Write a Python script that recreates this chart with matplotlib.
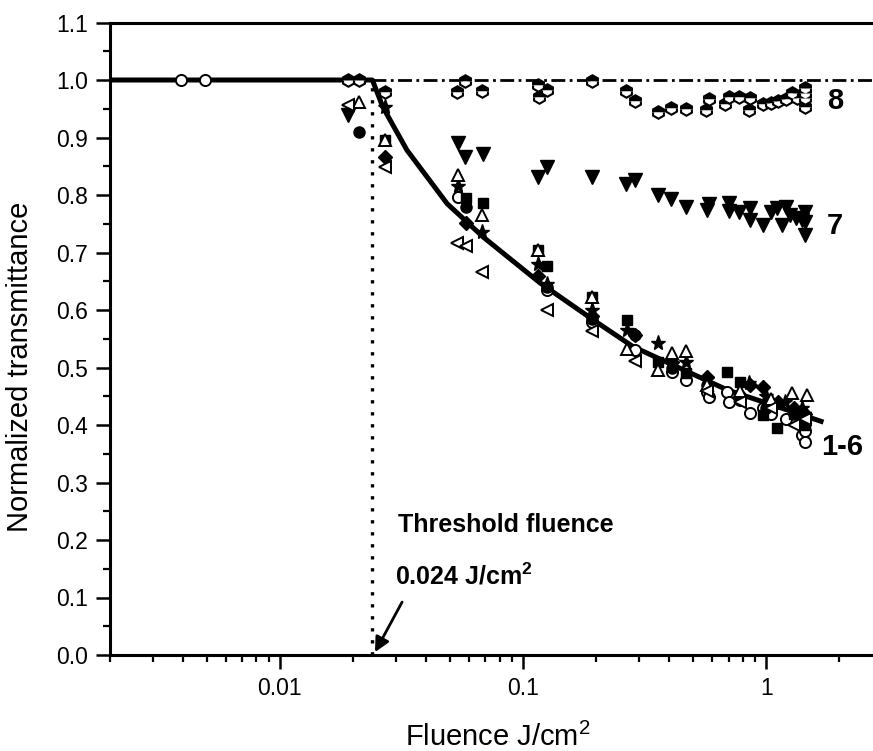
import numpy as np
import matplotlib
matplotlib.use("Agg")
import matplotlib.pyplot as plt
from matplotlib.ticker import FixedLocator, LogLocator, NullFormatter, FuncFormatter, MultipleLocator

plt.rcParams['font.family'] = ['Liberation Sans', 'DejaVu Sans']
plt.rcParams['mathtext.fontset'] = 'custom'
plt.rcParams['mathtext.rm'] = 'Liberation Sans'
plt.rcParams['mathtext.bf'] = 'Liberation Sans:bold'

# ---- data ----
# fitted curve (solid)
fit_x = [0.002, 0.024, 0.0265, 0.0333, 0.0487, 0.0685, 0.1175, 0.194, 0.284, 0.692, 1.72]
fit_y = [1.0, 1.0, 0.953, 0.878, 0.785, 0.727, 0.647, 0.583, 0.536, 0.461, 0.405]

threshold = 0.024

# series 8 (half-filled hexagons)
s8_x = [0.0191, 0.0211, 0.027, 0.0535, 0.0577, 0.068, 0.115, 0.126, 0.116, 0.192, 0.265, 0.29,
        0.36, 0.405, 0.47, 0.566, 0.58, 0.678, 0.70, 0.77, 0.86, 0.85, 0.97, 1.05, 1.12, 1.21,
        1.28, 1.34, 1.44, 1.44, 1.44, 1.44]
s8_y = [1.0, 1.0, 0.979, 0.979, 0.998, 0.981, 0.991, 0.983, 0.970, 0.998, 0.981, 0.963,
        0.944, 0.951, 0.950, 0.948, 0.967, 0.958, 0.971, 0.970, 0.969, 0.948, 0.958, 0.960, 0.963, 0.967,
        0.977, 0.969, 0.986, 0.977, 0.969, 0.953]

# series 7 (filled down triangles)
s7_x = [0.0191, 0.054, 0.0577, 0.0685, 0.115, 0.126, 0.192, 0.265, 0.29, 0.36, 0.405, 0.47, 0.57,
        0.58, 0.70, 0.70, 0.77, 0.86, 0.86, 0.97, 1.05, 1.11, 1.16, 1.21, 1.25, 1.32, 1.40, 1.45,
        1.45, 1.45]
s7_y = [0.939, 0.890, 0.866, 0.871, 0.831, 0.849, 0.832, 0.819, 0.826, 0.800, 0.793, 0.779, 0.774,
        0.784, 0.786, 0.773, 0.771, 0.777, 0.757, 0.748, 0.771, 0.777, 0.748, 0.779, 0.765, 0.760, 0.757, 0.771,
        0.753, 0.730]

# series 1-6 (and filled circles)
s1_x = [0.0039, 0.0049, 0.054, 0.125, 0.192, 0.29, 0.41, 0.47, 0.57, 0.58, 0.69, 0.70, 0.78, 0.86,
        0.97, 1.05, 1.21, 1.40, 1.44, 1.44]
s1_y = [1.0, 1.0, 0.797, 0.635, 0.58, 0.530, 0.492, 0.478, 0.457, 0.449, 0.457, 0.44, 0.443, 0.421,
        0.43, 0.42, 0.41, 0.383, 0.39, 0.370]

s2_x = [0.027, 0.058, 0.0685, 0.115, 0.126, 0.192, 0.267, 0.36, 0.47, 0.69, 0.78, 0.97, 1.11, 1.3, 1.45]
s2_y = [0.896, 0.795, 0.786, 0.704, 0.677, 0.623, 0.583, 0.51, 0.49, 0.492, 0.475, 0.417, 0.395, 0.42, 0.40]

s3_x = [0.0211, 0.027, 0.054, 0.068, 0.115, 0.192, 0.267, 0.36, 0.41, 0.47, 0.57, 0.78, 1.05, 1.28, 1.47]
s3_y = [0.962, 0.896, 0.835, 0.765, 0.704, 0.623, 0.532, 0.496, 0.525, 0.529, 0.47, 0.46, 0.445, 0.456, 0.452]

s4_x = [0.027, 0.058, 0.115, 0.192, 0.29, 0.41, 0.57, 0.86, 0.97, 1.12, 1.3, 1.45]
s4_y = [0.866, 0.751, 0.66, 0.59, 0.557, 0.51, 0.483, 0.47, 0.466, 0.44, 0.43, 0.42]

s5_x = [0.0191, 0.027, 0.0535, 0.058, 0.068, 0.125, 0.192, 0.29, 0.57, 0.78, 1.05, 1.3, 1.45]
s5_y = [0.957, 0.849, 0.716, 0.711, 0.666, 0.600, 0.564, 0.511, 0.46, 0.44, 0.43, 0.40, 0.41]

s6_x = [0.027, 0.054, 0.068, 0.115, 0.126, 0.192, 0.267, 0.36, 0.47, 0.57, 0.85, 1.0, 1.2, 1.4]
s6_y = [0.953, 0.816, 0.736, 0.68, 0.645, 0.60, 0.565, 0.543, 0.51, 0.48, 0.473, 0.45, 0.44, 0.43]

s9_x = [0.0211, 0.058, 0.126, 0.192, 0.29, 0.41, 0.57, 0.78, 1.0, 1.3, 1.45]
s9_y = [0.910, 0.779, 0.64, 0.585, 0.557, 0.50, 0.47, 0.45, 0.43, 0.42, 0.41]

y_ticks = [0.0, 0.1, 0.2, 0.3, 0.4, 0.5, 0.6, 0.7, 0.8, 0.9, 1.0, 1.1]
x_ticks = [0.01, 0.1, 1]
x_tick_labels = ['0.01', '0.1', '1']

# ---- figure ----
fig = plt.figure(figsize=(8.73, 7.51), dpi=100)
ax = fig.add_axes([110/873, 96/751, 763/873, 632.5/751])
ax.set_xscale('log')
ax.set_xlim(0.002, 2.75)
ax.set_ylim(0.0, 1.1)

# reference lines
ax.plot([threshold, 2.75], [1.0, 1.0], color='black', lw=2.0,
        linestyle=(0, (5, 1.6, 1, 1.6)), zorder=2)
ax.plot([threshold, threshold], [0.0, 1.0], color='black', lw=2.4,
        linestyle=(0, (1, 2.6)), zorder=2)

# fitted curve
ax.plot(fit_x, fit_y, color='black', lw=3.6, solid_capstyle='butt', zorder=3)

ms = 8
mk = dict(linestyle='none', markeredgecolor='black', zorder=4)
ax.plot(s8_x, s8_y, marker='h', ms=9, fillstyle='top', markerfacecolor='black',
        markerfacecoloralt='white', mew=1.5, **mk)
ax.plot(s7_x, s7_y, marker='v', ms=9.5, markerfacecolor='black', mew=1, **mk)
ax.plot(s1_x, s1_y, marker='o', ms=ms, markerfacecolor='white', mew=1.4, **mk)
ax.plot(s2_x, s2_y, marker='s', ms=7.5, markerfacecolor='black', mew=1, **mk)
ax.plot(s9_x, s9_y, marker='o', ms=8, markerfacecolor='black', mew=1, **mk)
ax.plot(s4_x, s4_y, marker='D', ms=7, markerfacecolor='black', mew=1, **mk)
ax.plot(s6_x, s6_y, marker='*', ms=11, markerfacecolor='black', mew=1, **mk)
ax.plot(s3_x, s3_y, marker='^', ms=ms, markerfacecolor='white', mew=1.4, **mk)
ax.plot(s5_x, s5_y, marker='<', ms=ms, markerfacecolor='white', mew=1.4, **mk)

# annotations
ax.text(0.0306, 0.214, 'Threshold fluence', fontsize=18, fontweight='bold',
        ha='left', va='baseline')
ax.text(0.0297, 0.122, r'0.024 J/cm$^{\mathbf{2}}$', fontsize=18, fontweight='bold',
        ha='left', va='baseline')
ax.annotate('', xy=(0.0246, 0.005), xytext=(0.0318, 0.092),
            arrowprops=dict(arrowstyle='-|>', color='black', lw=2, mutation_scale=22,
                            shrinkA=0, shrinkB=0))
ax.text(1.92, 0.963, '8', fontsize=21, fontweight='bold', ha='center', va='center')
ax.text(1.92, 0.746, '7', fontsize=21, fontweight='bold', ha='center', va='center')
ax.text(2.05, 0.362, '1-6', fontsize=21, fontweight='bold', ha='center', va='center')

# axes styling
for side in ['left', 'bottom', 'top']:
    ax.spines[side].set_linewidth(2.2)
ax.spines['right'].set_visible(False)

ax.yaxis.set_major_locator(FixedLocator(y_ticks))
ax.yaxis.set_minor_locator(MultipleLocator(0.05))
ax.yaxis.set_major_formatter(FuncFormatter(lambda v, p: f'{v:.1f}'))
ax.xaxis.set_major_locator(FixedLocator(x_ticks))
ax.set_xticklabels(x_tick_labels)
ax.xaxis.set_minor_locator(LogLocator(base=10, subs=np.arange(2, 10)))
ax.xaxis.set_minor_formatter(NullFormatter())

ax.tick_params(which='major', direction='out', length=10, width=1.8, labelsize=16.5, pad=6)
ax.tick_params(which='minor', direction='out', length=5, width=1.6)
ax.tick_params(top=False, right=False)

ax.set_ylabel('Normalized transmittance', fontsize=21)
ax.set_xlabel(r'Fluence J/cm$^2$', fontsize=21)
ax.yaxis.set_label_coords(-0.099, 0.455)
ax.xaxis.set_label_coords(0.508, -0.107)

fig.savefig('out.png', dpi=100)
